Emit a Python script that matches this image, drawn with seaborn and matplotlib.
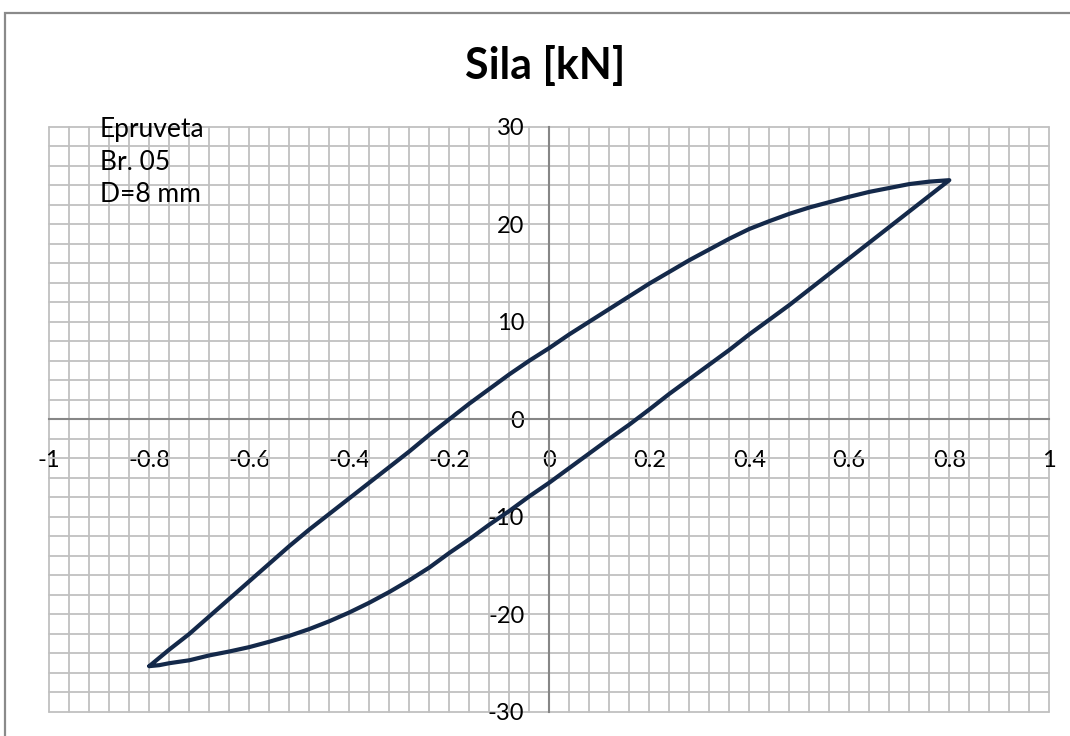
import numpy as np
import pandas as pd
import seaborn as sns
import matplotlib.pyplot as plt
import matplotlib.patches as mpatches

OUTPUT_FILE_NAME = "out.png"

# hysteresis loop: loading branch then unloading branch
upper_x = [-0.80, -0.76, -0.72, -0.68, -0.64, -0.60, -0.56, -0.52, -0.48, -0.44, -0.40,
           -0.36, -0.32, -0.28, -0.24, -0.20, -0.16, -0.12, -0.08, -0.04, 0.00,
           0.04, 0.08, 0.12, 0.16, 0.20, 0.24, 0.28, 0.32, 0.36, 0.40,
           0.44, 0.48, 0.52, 0.56, 0.60, 0.64, 0.68, 0.72, 0.76, 0.80]
upper_y = [-25.3, -23.6, -22.0, -20.2, -18.4, -16.6, -14.8, -13.0, -11.3, -9.7, -8.1,
           -6.5, -4.9, -3.3, -1.6, 0.0, 1.6, 3.1, 4.6, 6.0, 7.3,
           8.7, 10.0, 11.3, 12.6, 13.9, 15.1, 16.3, 17.4, 18.5, 19.5,
           20.3, 21.05, 21.7, 22.25, 22.8, 23.3, 23.7, 24.1, 24.35, 24.5]

lower_x = [0.80, 0.78, 0.76, 0.72, 0.68, 0.64, 0.60, 0.56, 0.52, 0.48, 0.44, 0.40,
           0.36, 0.32, 0.28, 0.24, 0.20, 0.16, 0.12, 0.08, 0.04, 0.00,
           -0.04, -0.08, -0.12, -0.16, -0.20, -0.24, -0.28, -0.32, -0.36, -0.40,
           -0.44, -0.48, -0.52, -0.56, -0.60, -0.64, -0.68, -0.72, -0.76, -0.78, -0.80]
lower_y = [24.5, 23.7, 22.9, 21.3, 19.7, 18.1, 16.5, 14.9, 13.3, 11.7, 10.2, 8.7,
           7.1, 5.6, 4.1, 2.6, 1.0, -0.55, -2.0, -3.5, -5.0, -6.5,
           -7.9, -9.4, -10.8, -12.3, -13.7, -15.2, -16.5, -17.7, -18.8, -19.8,
           -20.7, -21.5, -22.2, -22.8, -23.35, -23.8, -24.2, -24.7, -25.0, -25.2, -25.3]

x_ticks = [-1, -0.8, -0.6, -0.4, -0.2, 0, 0.2, 0.4, 0.6, 0.8, 1]
x_tick_labels = ["-1", "-0.8", "-0.6", "-0.4", "-0.2", "0", "0.2", "0.4", "0.6", "0.8", "1"]
y_ticks = [-30, -20, -10, 0, 10, 20, 30]
y_tick_labels = ["-30", "-20", "-10", "0", "10", "20", "30"]

title_text = "Sila [kN]"
note_text = "Epruveta\nBr. 05\nD=8 mm"

if __name__ == "__main__":
    loop = pd.DataFrame({"pomak": upper_x + lower_x, "sila": upper_y + lower_y})

    sns.set_style("white")
    plt.rcParams['font.family'] = ['Lato', 'DejaVu Sans']
    plt.rcParams['text.color'] = 'black'

    fig = plt.figure(figsize=(10.7, 7.36), dpi=100)
    ax = fig.add_axes([49.3 / 1070, 1 - 712 / 736, 1000 / 1070, (712 - 126.5) / 736])

    sns.lineplot(data=loop, x="pomak", y="sila", sort=False, estimator=None,
                 color="#14294a", linewidth=3.0, ax=ax, zorder=5)
    ax.lines[-1].set_solid_joinstyle("round")
    ax.lines[-1].set_solid_capstyle("round")

    ax.set_xlim(-1, 1)
    ax.set_ylim(-30, 30)
    ax.set_xticks(x_ticks)
    ax.set_xticklabels(x_tick_labels)
    ax.set_yticks(y_ticks)
    ax.set_yticklabels(y_tick_labels)
    ax.set_xticks(np.linspace(-1, 1, 51), minor=True)
    ax.set_yticks(np.linspace(-30, 30, 31), minor=True)
    ax.grid(which="both", color="#c0c0c0", linewidth=1.3)
    ax.set_axisbelow(True)
    ax.set_xlabel("")
    ax.set_ylabel("")

    for side in ["top", "right"]:
        ax.spines[side].set_visible(False)
    for side in ["left", "bottom"]:
        ax.spines[side].set_position("zero")
        ax.spines[side].set_color("#868686")
        ax.spines[side].set_linewidth(1.5)
        ax.spines[side].set_zorder(3)

    ax.tick_params(axis="x", which="major", direction="out", length=6, width=1.2,
                   color="#868686", labelsize=17, pad=16, labelcolor="black")
    ax.tick_params(axis="y", which="major", direction="out", length=6, width=1.2,
                   color="#868686", labelsize=17, pad=12, labelcolor="black")
    ax.tick_params(which="minor", length=0)
    ax.patch.set_alpha(0)

    for tick in ax.xaxis.get_major_ticks() + ax.xaxis.get_minor_ticks() + \
            ax.yaxis.get_major_ticks() + ax.yaxis.get_minor_ticks():
        tick.gridline.set_clip_on(False)

    ax.text(100 / 1070, 1 - 117 / 736, note_text, transform=fig.transFigure,
            fontsize=19, va="top", ha="left", linespacing=1.38, color="black")

    fig.text(545 / 1070, 1 - 66 / 736, title_text, fontsize=31, fontweight="bold",
             ha="center", va="center", color="black")

    border = mpatches.Rectangle((5 / 1070, -0.05), 1.1, 1 - 13 / 736 + 0.05,
                                transform=fig.transFigure, fill=False,
                                edgecolor="#8a8a8a", linewidth=1.6)
    fig.add_artist(border)

    fig.savefig(OUTPUT_FILE_NAME, dpi=100)
